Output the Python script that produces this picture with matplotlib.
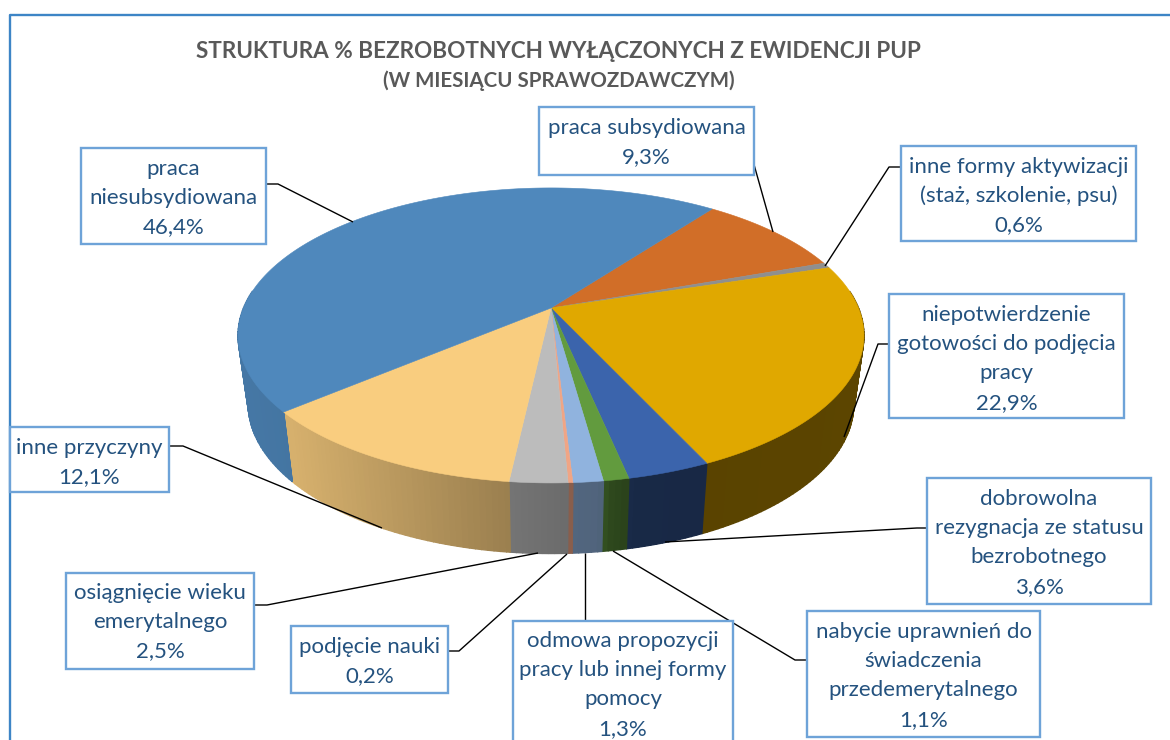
import numpy as np
import matplotlib
matplotlib.use("Agg")
import matplotlib.pyplot as plt
from matplotlib.patches import Rectangle

# data, clockwise from the first slice
categories = ["praca subsydiowana",
              "inne formy aktywizacji\n(staż, szkolenie, psu)",
              "niepotwierdzenie\ngotowości do podjęcia\npracy",
              "dobrowolna\nrezygnacja ze statusu\nbezrobotnego",
              "nabycie uprawnień do\nświadczenia\nprzedemerytalnego",
              "odmowa propozycji\npracy lub innej formy\npomocy",
              "podjęcie nauki",
              "osiągnięcie wieku\nemerytalnego",
              "inne przyczyny",
              "praca\nniesubsydiowana"]
values = [9.3, 0.6, 22.9, 3.6, 1.1, 1.3, 0.2, 2.5, 12.1, 46.4]
colors = ["#d16e28", "#8f8f8f", "#e0a800", "#3b64ac", "#629b3e",
          "#90b3de", "#f0a585", "#bcbcbc", "#f9cd7f", "#4f88bc"]

title1 = "STRUKTURA % BEZROBOTNYCH WYŁĄCZONYCH Z EWIDENCJI PUP"
title2 = "(W MIESIĄCU SPRAWOZDAWCZYM)"

# label boxes (left, top, right, bottom) in pixels, same order as categories
boxes = [(539, 107, 754, 175), (901, 146, 1136, 241), (889, 294, 1124, 418),
         (927, 478, 1151, 604), (807, 611, 1040, 737), (513, 621, 733, 760),
         (291, 626, 448, 693), (66, 573, 254, 669), (10, 427, 169, 492),
         (81, 148, 266, 244)]
# first text line centre of each box
first_line = [128, 167, 315, 499, 632, 641, 647, 593, 448, 169]
leaders = [[(753, 161), (773, 232)],
           [(901, 167), (889, 167), (825, 266)],
           [(889, 344), (878, 344), (844, 437)],
           [(927, 528), (917, 528), (665, 542)],
           [(807, 660), (795, 660), (613, 551)],
           [(585, 621), (585, 553)],
           [(448, 651), (459, 651), (567, 554)],
           [(254, 605), (267, 605), (538, 553)],
           [(169, 446), (183, 446), (382, 528)],
           [(266, 184), (278, 184), (353, 222)]]

START = 53.0
K = 0.186


def project(t, a, b, y0):
    # circle seen with a bit of perspective, t in degrees
    x = np.cos(np.radians(t))
    y = np.sin(np.radians(t))
    w = 1 + K * y
    return 551 + a * x / w, y0 - b * y / w


def top(t):
    return project(t, 307.5, 142.4, 308)


def base(t):
    return project(t, 297.5, 144.5, 376)


def shade(color, x):
    f = np.interp(x, [238, 290, 510, 570, 600, 612, 635, 700, 863],
                  [0.88, 0.86, 0.62, 0.57, 0.56, 0.47, 0.41, 0.40, 0.41])
    return tuple(c * f for c in matplotlib.colors.to_rgb(color))


fig = plt.figure(figsize=(11.7, 7.4), dpi=100)
ax = fig.add_axes([0, 0, 1, 1])
ax.set_xlim(0, 1170)
ax.set_ylim(740, 0)
ax.axis("off")

# outer frame, only left and top are in the picture
ax.plot([9.5, 9.5, 1170], [740, 14.5, 14.5], color="#3d85c6", lw=1.7, zorder=1)

edges = START - np.cumsum([0] + values) * 3.6

# side wall, front part only
for i, color in enumerate(colors):
    a0, a1 = edges[i], edges[i + 1]
    ts = np.arange(a1, a0, 1.0)
    ts = np.append(ts, a0)
    for t0, t1 in zip(ts[:-1], ts[1:]):
        s0 = np.sin(np.radians(t0))
        s1 = np.sin(np.radians(t1))
        if s0 > 0.12 and s1 > 0.12:
            continue
        x0, y0 = top(t0)
        x1, y1 = top(t1)
        x2, y2 = base(t1)
        x3, y3 = base(t0)
        c = shade(color, (x0 + x1) / 2)
        ax.fill([x0, x1, x2, x3], [y0, y1, y2, y3], fc=c, ec=c, lw=1.0, zorder=2)

# top surface
for i, color in enumerate(colors):
    ts = np.linspace(edges[i + 1], edges[i], 200)
    xs, ys = top(ts)
    ax.fill(np.r_[551, xs], np.r_[308, ys], color=color, lw=0.4, zorder=3)

# leader lines
for pts in leaders:
    ax.plot([p[0] for p in pts], [p[1] for p in pts], color="black", lw=1.0,
            zorder=4, solid_capstyle="butt")

# label boxes
for i, name in enumerate(categories):
    l, t, r, b = boxes[i]
    ax.add_patch(Rectangle((l, t), r - l, b - t, fc="white", ec="#6ea3d8",
                           lw=1.7, zorder=5, clip_on=True))
    lines = name.split("\n") + [f"{values[i]:.1f}%".replace(".", ",")]
    for j, line in enumerate(lines):
        ax.text((l + r) / 2, first_line[i] + j * 29.2, line, ha="center",
                va="center", family="Lato", fontsize=16, color="#24527f",
                zorder=6)

ax.text(558, 51, title1, ha="center", va="center", family="Lato",
        fontweight="bold", fontsize=16.2, color="#595959")
ax.text(559, 81, title2, ha="center", va="center", family="Lato",
        fontweight="bold", fontsize=14.8, color="#595959")

fig.savefig("out.png", dpi=100)
